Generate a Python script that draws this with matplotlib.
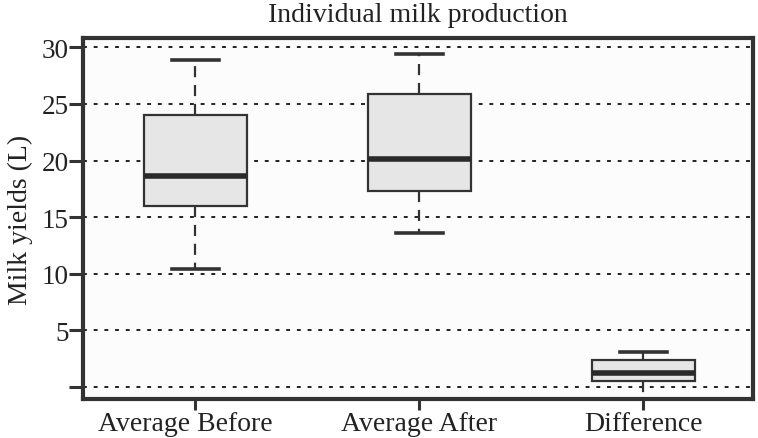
import matplotlib
matplotlib.use("Agg")
import matplotlib.pyplot as plt
import matplotlib.transforms as mtransforms

# box statistics
labels = ["Average Before", "Average After", "Difference"]
whislo = [10.4, 13.6, -1.5]
q1 = [16.0, 17.3, 0.5]
med = [18.6, 20.1, 1.25]
q3 = [24.0, 25.9, 2.4]
whishi = [28.9, 29.4, 3.1]
yticks = [0, 5, 10, 15, 20, 25, 30]
yticklabels = ["", "5", "10", "15", "20", "25", "30"]

plt.rcParams['font.family'] = ['Liberation Serif', 'DejaVu Serif']
dark = "#333333"

fig = plt.figure(figsize=(7.58, 4.39), dpi=100)
ax = fig.add_axes([0.1095, 0.0888, 0.884, 0.822])
ax.set_facecolor("#fcfcfc")

stats = []
for i in range(len(labels)):
    stats.append(dict(label=labels[i], whislo=whislo[i], q1=q1[i], med=med[i],
                      q3=q3[i], whishi=whishi[i], fliers=[]))

ax.bxp(stats, positions=[1, 2, 3], widths=0.46, capwidths=0.21,
       patch_artist=True, showfliers=False,
       boxprops=dict(facecolor="#e6e6e6", edgecolor=dark, linewidth=1.6),
       medianprops=dict(color="#2a2a2a", linewidth=4.0, solid_capstyle="butt"),
       whiskerprops=dict(color=dark, linewidth=1.6, linestyle=(0, (5, 3.5))),
       capprops=dict(color=dark, linewidth=2.6), zorder=3)

ax.set_xlim(0.5, 3.49)
ax.set_ylim(-1.05, 30.8)
ax.set_yticks(yticks)
ax.set_yticklabels(yticklabels)
ax.yaxis.grid(True, linestyle=(0, (2, 3.5)), color="#222222", linewidth=1.4)
ax.set_axisbelow(True)

for s in ax.spines.values():
    s.set_linewidth(3.0)
    s.set_color(dark)
ax.tick_params(axis="y", direction="out", length=10, width=2.2, color=dark,
               labelsize=19.5, labelcolor="#222222", pad=0.5)
ax.tick_params(axis="x", direction="out", length=8, width=2.2, color=dark,
               labelsize=20, labelcolor="#222222", pad=0.5)

# first label sits a little left of its tick in the original
lbl = ax.get_xticklabels()[0]
lbl.set_transform(lbl.get_transform() + mtransforms.ScaledTranslation(-10 / 100, 0, fig.dpi_scale_trans))

ax.set_ylabel("Milk yields (L)", fontsize=20, color="#222222", labelpad=6)
ax.set_title("Individual milk production", fontsize=20, color="#222222", pad=12)

fig.savefig("out.png", dpi=100)
